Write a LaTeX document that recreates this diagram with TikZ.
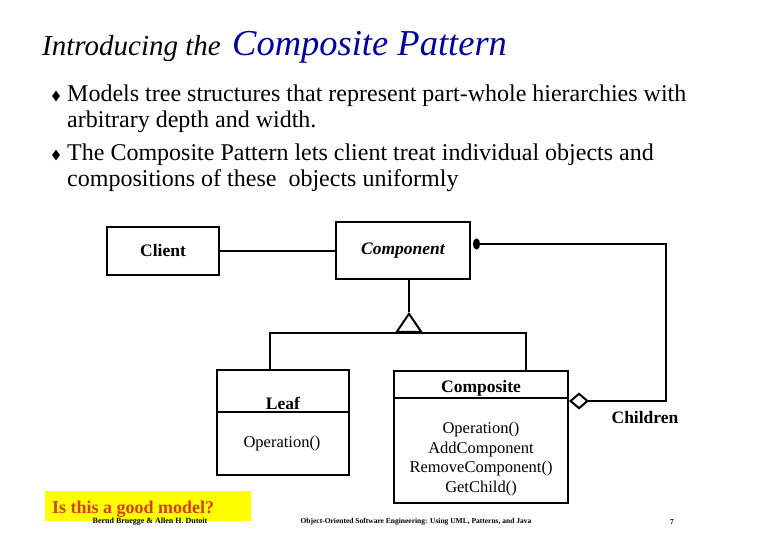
\documentclass[tikz,border=0pt]{standalone}
\usepackage{fontspec}
\setmainfont{Liberation Serif}
\usetikzlibrary{arrows.meta,shapes.geometric}
\definecolor{titleblue}{RGB}{0,0,160}
\definecolor{notered}{RGB}{214,64,16}
\definecolor{noteyellow}{RGB}{255,255,0}

\begin{document}
\begin{tikzpicture}[x=1pt,y=-1pt,
    txt/.style={inner sep=0pt},
    bodytext/.style={txt,anchor=base west,font=\fontsize{24}{26}\selectfont},
    umlbox/.style={draw,line width=2pt,inner sep=0pt},
    classname/.style={txt,font=\fontsize{17.5}{20}\selectfont\bfseries},
    method/.style={txt,font=\fontsize{16.5}{19.5}\selectfont,align=center},
    footer/.style={txt,font=\fontsize{7.5}{9}\selectfont\bfseries},
    link/.style={line width=2pt}]
    \useasboundingbox (0,0) rectangle (780,540);
    % title
    \node[txt,anchor=base west,font=\fontsize{29}{34}\selectfont\itshape] (intro) at (42,56) {Introducing the};
    \node[txt,anchor=base west,font=\fontsize{36.5}{40}\selectfont\itshape,text=titleblue] (pattern) at (232,56) {Composite Pattern};
    % bullets
    \foreach \y/\n in {96/1,155/2}{
        \node[diamond,fill=black,inner sep=0pt,minimum width=8pt,minimum height=11pt] (bullet\n) at (56,\y) {};
    }
    \node[bodytext] (line1) at (67,102) {Models tree structures that represent part-whole hierarchies with};
    \node[bodytext] (line2) at (67,128) {arbitrary depth and width.};
    \node[bodytext] (line3) at (67,161) {The Composite Pattern lets client treat individual objects and};
    \node[bodytext] (line4) at (67,187) {compositions of these\ \ objects uniformly};
    % classes
    \node[umlbox,classname,minimum width=112pt,minimum height=48pt] (client) at (163,251) {Client};
    \node[umlbox,classname,minimum width=134pt,minimum height=57pt,font=\fontsize{17.5}{20}\selectfont\bfseries\itshape] (component) at (403,251) {Component};
    \node[umlbox,minimum width=132pt,minimum height=105pt] (leaf) at (283,422.5) {};
    \node[umlbox,minimum width=174pt,minimum height=132pt] (composite) at (481,437) {};
    \coordinate (leafcut) at (283,412);
    \coordinate (compcut) at (481,398);
    \draw[link] (leaf.west |- leafcut) -- (leaf.east |- leafcut);
    \draw[link] (composite.west |- compcut) -- (composite.east |- compcut);
    \node[classname] (leafname) at (283,403) {Leaf};
    \node[method] (leafop) at (282,444) {Operation()};
    \node[classname] (compname) at (481,388) {Composite};
    \node[method] (compops) at (481,459) {Operation()\\AddComponent\\RemoveComponent()\\GetChild()};
    \node[classname] (children) at (645,418) {Children};
    % connectors
    \draw[link] (client) -- (component);
    \coordinate (apex) at (409,312);
    \coordinate (hub) at (409,333);
    \coordinate (leafdrop) at (270,333);
    \coordinate (compdrop) at (526,333);
    \draw[link] (component.south -| apex) -- (apex);
    \draw[link,-{Triangle[open,length=21pt,width=28pt]}] (hub) -- (apex);
    \draw[link] (leafdrop |- leaf.north) -- (leafdrop) -- (compdrop) -- (compdrop |- composite.north);
    \coordinate (corner1) at (666,244);
    \coordinate (corner2) at (666,401);
    \draw[link,{Ellipse[length=7pt,width=11pt]}-{Diamond[open,length=20pt,width=17pt]}]
        ([xshift=2pt]component.east |- corner1) -- (corner1) -- (corner2) -- (composite.east |- corner2);
    % note and footer
    \node[fill=noteyellow,inner sep=0pt,minimum width=206pt,minimum height=30pt] (note) at (148,506) {};
    \node[txt,anchor=base west,font=\fontsize{18}{20}\selectfont\bfseries,text=notered] (question) at (52,513) {Is this a good model?};
    \node[footer,font=\fontsize{8}{9}\selectfont\bfseries] (authors) at (150,522) {Bernd Bruegge \& Allen H. Dutoit};
    \node[footer] (book) at (416,522) {Object-Oriented Software Engineering: Using UML, Patterns, and Java};
    \node[footer] (page) at (672,522) {7};
\end{tikzpicture}
\end{document}
